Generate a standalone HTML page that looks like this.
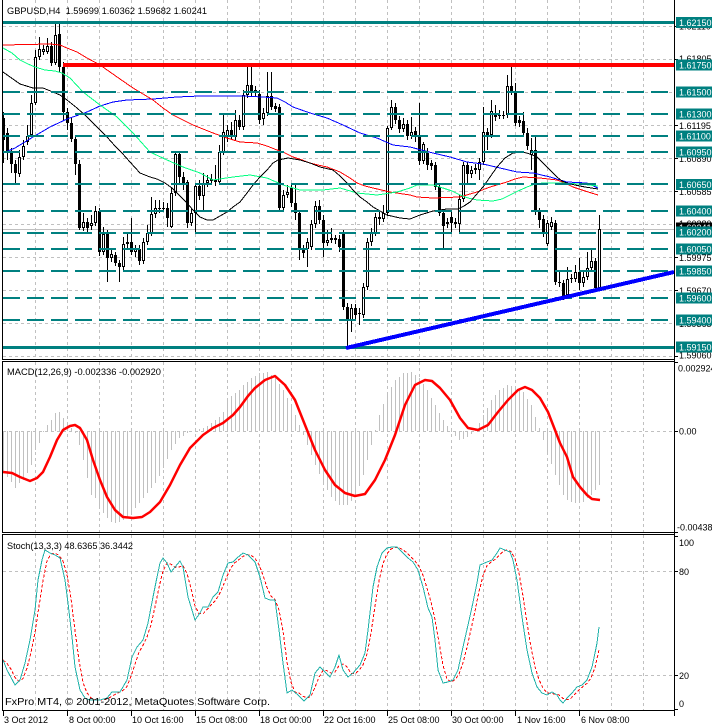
<!DOCTYPE html>
<html><head><meta charset="utf-8"><title>GBPUSD H4</title>
<style>
html,body{margin:0;padding:0;background:#fff;overflow:hidden}
svg{display:block}
text{font-family:"Liberation Sans",Arial,sans-serif;white-space:pre}
</style></head><body>
<svg width="712" height="727" viewBox="0 0 712 727" xmlns="http://www.w3.org/2000/svg" shape-rendering="crispEdges">
<rect x="0" y="0" width="712" height="727" fill="#fff"/>
<g id="g"></g>
<!-- panel borders -->
<path d="M2.5 0V359.5H674.5" fill="none" stroke="#000"/>
<line x1="674.5" y1="0" x2="674.5" y2="716" stroke="#000"/>
<rect x="2.5" y="361.5" width="672" height="171" fill="none" stroke="#000"/>
<rect x="2.5" y="534.5" width="672" height="176" fill="none" stroke="#000"/>
<g stroke="#000">
<line x1="3.5" y1="711" x2="3.5" y2="716"/><line x1="67.5" y1="711" x2="67.5" y2="716"/><line x1="131.5" y1="711" x2="131.5" y2="716"/><line x1="195.5" y1="711" x2="195.5" y2="716"/><line x1="259.5" y1="711" x2="259.5" y2="716"/><line x1="323.5" y1="711" x2="323.5" y2="716"/><line x1="387.5" y1="711" x2="387.5" y2="716"/><line x1="451.5" y1="711" x2="451.5" y2="716"/><line x1="515.5" y1="711" x2="515.5" y2="716"/><line x1="579.5" y1="711" x2="579.5" y2="716"/>
<line x1="675" y1="26.5" x2="678" y2="26.5"/><line x1="675" y1="59.5" x2="678" y2="59.5"/><line x1="675" y1="125.5" x2="678" y2="125.5"/><line x1="675" y1="158.5" x2="678" y2="158.5"/><line x1="675" y1="191.5" x2="678" y2="191.5"/><line x1="675" y1="257.5" x2="678" y2="257.5"/><line x1="675" y1="290.5" x2="678" y2="290.5"/><line x1="675" y1="356.5" x2="678" y2="356.5"/>
<line x1="675" y1="362.5" x2="678" y2="362.5"/><line x1="675" y1="431.5" x2="678" y2="431.5"/><line x1="675" y1="532.5" x2="678" y2="532.5"/>
<line x1="675" y1="536.5" x2="678" y2="536.5"/><line x1="675" y1="571.5" x2="678" y2="571.5"/><line x1="675" y1="675.5" x2="678" y2="675.5"/><line x1="675" y1="709.5" x2="678" y2="709.5"/>
</g>
<!-- black grid price labels -->
<g font-size="9" fill="#000">
<text x="679" y="29.5">1.62110</text>
<text x="679" y="62">1.61805</text>
<text x="679" y="129">1.61195</text>
<text x="679" y="162">1.60890</text>
<text x="679" y="195">1.60585</text>
<text x="679" y="227">1.60280</text>
<text x="679" y="261">1.59975</text>
<text x="679" y="294">1.59670</text>
<text x="679" y="327">1.59365</text>
<text x="679" y="358.5">1.59060</text>
</g>
<rect x="676" y="222.5" width="36" height="11" fill="#000"/>
<text x="679" y="231" font-size="9" fill="#fff">1.60241</text>
<!-- teal level labels -->
<g fill="#008080">
<rect x="676" y="17" width="36" height="11"/>
<rect x="676" y="59.5" width="36" height="11"/>
<rect x="676" y="86.5" width="36" height="11"/>
<rect x="676" y="108.5" width="36" height="11"/>
<rect x="676" y="130.5" width="36" height="11"/>
<rect x="676" y="146.5" width="36" height="11"/>
<rect x="676" y="179" width="36" height="11"/>
<rect x="676" y="205.5" width="36" height="11"/>
<rect x="676" y="226.5" width="36" height="11"/>
<rect x="676" y="243.5" width="36" height="11"/>
<rect x="676" y="265.5" width="36" height="11"/>
<rect x="676" y="292.5" width="36" height="11"/>
<rect x="676" y="314.5" width="36" height="11"/>
<rect x="676" y="341.5" width="36" height="11"/>
</g>
<g font-size="9" fill="#fff">
<text x="679" y="26">1.62150</text>
<text x="679" y="68.5">1.61750</text>
<text x="679" y="95.5">1.61500</text>
<text x="679" y="117.5">1.61300</text>
<text x="679" y="139.5">1.61100</text>
<text x="679" y="155.5">1.60950</text>
<text x="679" y="188">1.60650</text>
<text x="679" y="214.5">1.60400</text>
<text x="679" y="235.5">1.60200</text>
<text x="679" y="252.5">1.60050</text>
<text x="679" y="274.5">1.59850</text>
<text x="679" y="301.5">1.59600</text>
<text x="679" y="323.5">1.59400</text>
<text x="679" y="350.5">1.59150</text>
</g>
<!-- indicator scale labels -->
<g font-size="9" fill="#000">
<text x="678" y="371.5">0.002924</text>
<text x="679" y="434.5">0.00</text>
<text x="677" y="530.5">-0.004380</text>
<text x="679" y="546">100</text>
<text x="679" y="575">80</text>
<text x="679" y="679">20</text>
<text x="679" y="707">0</text>
</g>
<!-- titles -->
<text x="7" y="14" font-size="9.5" textLength="200" lengthAdjust="spacingAndGlyphs">GBPUSD,H4  1.59699 1.60362 1.59682 1.60241</text>
<text x="7" y="375" font-size="9.5" textLength="154" lengthAdjust="spacingAndGlyphs">MACD(12,26,9) -0.002336 -0.002920</text>
<text x="7" y="549" font-size="9.5" textLength="126" lengthAdjust="spacingAndGlyphs">Stoch(13,3,3) 48.6365 36.3442</text>
<text x="5" y="705" font-size="10.5" textLength="265" lengthAdjust="spacingAndGlyphs">FxPro MT4, © 2001-2012, MetaQuotes Software Corp.</text>
<!-- x axis labels -->
<g font-size="9" fill="#000">
<text x="4" y="723">3 Oct 2012</text>
<text x="69" y="723">8 Oct 00:00</text>
<text x="132" y="723">10 Oct 16:00</text>
<text x="196" y="723">15 Oct 08:00</text>
<text x="260" y="723">18 Oct 00:00</text>
<text x="324" y="723">22 Oct 16:00</text>
<text x="388" y="723">25 Oct 08:00</text>
<text x="452" y="723">30 Oct 00:00</text>
<text x="517" y="723">1 Nov 16:00</text>
<text x="581" y="723">6 Nov 08:00</text>
</g>
</svg>
<script>
(function(){
var o='';
function R(x,y,w,h,f){o+='<rect x="'+x+'" y="'+y+'" width="'+w+'" height="'+h+'" fill="'+f+'"/>';}
function L(x1,y1,x2,y2,c,w,d,aa){o+='<line x1="'+x1+'" y1="'+y1+'" x2="'+x2+'" y2="'+y2+'" stroke="'+c+'" stroke-width="'+w+'"'+(d?' stroke-dasharray="'+d+'"':'')+(aa?' shape-rendering="auto"':'')+'/>';}
function P(p,c,w,d,aa){o+='<polyline fill="none" stroke="'+c+'" stroke-width="'+w+'"'+(d?' stroke-dasharray="'+d+'"':'')+(aa?' shape-rendering="auto"':'')+' stroke-linejoin="round" points="'+p.map(function(q){return q[0]+','+q[1];}).join(' ')+'"/>';}
function I(k,x){if(x<=k[0][0])return k[0][1];for(var i=1;i<k.length;i++){if(x<=k[i][0]){var a=k[i-1],b=k[i];return a[1]+(b[1]-a[1])*(x-a[0])/(b[0]-a[0]);}}return k[k.length-1][1];}
var G='#c0c0c0',T='#008080';
// grid
for(var x=35;x<674;x+=32){L(x+.5,0,x+.5,359,G,1,'3,3');L(x+.5,362,x+.5,532,G,1,'3,3');L(x+.5,535,x+.5,710,G,1,'3,3');}
[26,59,92,125,158,191,224,257,290,323,356].forEach(function(y){L(3,y+.5,674,y+.5,G,1,'3,3');});
L(3,431.5,674,431.5,G,1,'3,3');L(3,571.5,674,571.5,G,1,'3,3');L(3,675.5,674,675.5,G,1,'3,3');
L(3,229.5,674,229.5,G,1);
// candles [open,close,high,low] in pixel y
var C=[[118,140,112,163],[133,152,128,160],[152,164,148,173],[164,173,160,183],[174,157,150,177],[157,146,140,160],[142,136,125,145],[135,103,95,137],[103,57,50,105],[57,49,37,60],
[52,49,45,55],[52,46,38,54],[46,63,42,66],[63,35,22,65],[34,67,21,72],[67,112,62,120],[112,123,108,130],[123,139,118,142],[139,164,135,175],[164,228,160,230],
[228,222,213,231],[222,228,218,232],[226,223,215,230],[223,211,206,226],[211,252,208,256],[252,234,227,255],[234,258,230,282],[258,254,250,262],[255,263,252,266],[263,267,260,282],
[267,244,237,270],[244,242,232,248],[242,252,218,255],[252,249,245,257],[249,261,245,265],[261,242,238,264],[242,233,225,245],[233,214,197,236],[214,208,200,218],[208,208,200,213],
[208,208,202,212],[208,218,203,227],[227,193,188,228],[193,154,151,196],[154,177,151,185],[177,185,172,190],[182,223,180,228],[223,213,208,226],[213,186,183,233],[186,196,180,200],
[196,183,173,210],[183,180,175,187],[181,179,174,184],[180,182,165,186],[182,152,145,185],[152,132,113,155],[137,130,125,142],[130,137,122,140],[137,120,110,140],[120,127,115,130],
[127,95,90,130],[95,85,63,98],[85,92,67,96],[90,93,86,96],[94,120,90,124],[119,113,108,125],[113,96,72,116],[96,107,72,110],[106,109,103,112],[107,208,104,212],
[208,195,190,212],[195,192,185,198],[188,203,185,207],[203,213,185,220],[213,249,210,260],[249,253,245,258],[249,242,238,267],[247,224,220,250],[224,206,201,228],[206,220,200,224],
[220,243,215,257],[243,240,230,246],[240,238,228,243],[238,240,235,244],[239,247,235,252],[232,307,230,310],[307,320,303,348],[320,308,304,332],[308,315,304,320],[313,313,308,325],
[315,287,283,318],[287,242,238,290],[242,233,228,246],[233,217,213,236],[217,219,212,225],[219,213,205,222],[213,128,126,216],[128,107,100,130],[107,120,103,124],[120,129,116,133],
[129,124,118,132],[124,136,120,140],[136,132,117,139],[131,137,127,142],[137,161,103,165],[161,144,142,164],[153,165,148,170],[163,166,160,170],[165,187,162,190],[187,213,183,216],
[213,226,210,249],[222,224,218,228],[217,223,212,232],[224,222,218,228],[224,199,195,232],[199,165,162,202],[165,174,162,184],[174,170,166,178],[170,168,164,174],[170,162,158,180],
[162,132,107,165],[132,135,128,150],[135,111,100,138],[113,117,105,121],[115,115,110,119],[115,115,111,119],[115,86,75,118],[86,92,67,95],[92,123,83,126],[120,123,116,127],
[121,133,112,137],[133,146,128,150],[155,150,138,170],[150,212,137,215],[212,220,208,228],[219,233,215,237],[244,223,220,246],[227,222,217,230],[223,282,220,285],[282,283,270,287],
[283,297,280,300],[295,279,267,298],[279,278,274,283],[279,272,265,282],[272,283,258,290],[283,277,270,287],[277,268,252,280],[268,261,248,271],[261,288,258,291],[288,229,215,291]];
for(var i=0;i<C.length;i++){var c=C[i],cx=3+4*i,op=c[0],cl=c[1],hi=c[2],lo=c[3];var t=Math.min(op,cl),b=Math.max(op,cl);
R(cx,hi,1,lo-hi,'#000');var hh=Math.max(b-t,1);R(cx-1,t,3,hh,'#000');if(cl<op&&hh>2)R(cx,t+1,1,hh-2,'#fff');}
// moving averages
var K=[[3,72],[20,84],[33,88],[43,88],[53,92],[60,95],[67,100],[77,108],[87,117],[97,127],[107,137],[115,146],[122,153],[130,162],[140,173],[150,177],[157,179],[165,183],[172,188],[177,193],[187,203],[193,210],[200,217],[207,220],[213,220],[220,216],[227,212],[233,207],[240,202],[247,193],[253,185],[260,177],[267,170],[273,163],[278,160],[288,158],[300,160],[310,163],[320,167],[333,170],[340,176],[347,183],[353,190],[360,197],[367,202],[373,207],[380,211],[387,215],[400,218],[410,219],[420,215],[433,211],[447,209],[458,209],[464,206],[470,202],[476,195],[483,187],[490,177],[497,167],[505,158],[513,153],[523,152],[530,154],[537,157],[542,162],[547,167],[552,172],[557,177],[562,181],[567,183],[575,185],[585,187],[598,189]];
var Gr=[[3,48],[12,53],[20,60],[28,64],[35,67],[45,70],[55,71],[62,73],[70,78],[83,92],[100,105],[117,117],[133,133],[150,152],[167,160],[183,167],[200,173],[213,180],[233,177],[250,175],[267,178],[283,185],[300,190],[323,190],[340,188],[357,193],[377,195],[397,192],[410,188],[417,185],[433,185],[443,188],[452,191],[460,195],[468,198],[477,200],[493,201],[502,199],[510,195],[518,191],[527,187],[535,184],[543,183],[560,183],[580,184],[598,186]];
var Rd=[[3,45],[50,44],[60,45],[67,48],[77,52],[87,58],[100,65],[110,72],[120,79],[133,88],[143,94],[153,100],[163,108],[173,115],[183,120],[193,125],[203,129],[213,133],[227,138],[240,142],[257,143],[267,146],[277,150],[285,153],[293,157],[302,160],[310,163],[318,165],[327,167],[335,170],[340,172],[350,178],[357,183],[365,186],[373,188],[390,192],[410,195],[417,197],[433,198],[460,197],[470,194],[477,192],[490,187],[507,182],[515,179],[523,177],[540,178],[557,180],[565,183],[573,187],[585,191],[598,195]];
var Bl=[[3,153],[15,148],[33,137],[50,127],[67,119],[87,112],[100,106],[113,102],[127,100],[153,99],[177,97],[200,96],[243,96],[262,97],[277,98],[285,102],[293,107],[310,113],[327,118],[343,125],[360,133],[377,138],[393,145],[410,147],[433,153],[450,157],[467,162],[483,164],[500,168],[517,172],[533,173],[550,177],[567,182],[587,183],[598,188]];
P(Bl,'#0000ff',1);P(Rd,'#ff0000',1);P(Gr,'#00ff80',1);P(K,'#000000',1);
// levels
[92,114,136,152,184,211,233,249,271,298,320].forEach(function(y){L(3,y,674,y,T,2,'17,7');});
R(3,21,671,3,T);R(3,346,671,3,T);R(63,63,611,4,'#ff0000');
// trendline
L(346,348,674,272,'#0000ff',4);
// MACD histogram
var H=[[3,472],[7,477],[11,482],[15,488],[19,483],[23,480],[27,473],[31,465],[35,450],[39,443],[43,432],[47,425],[51,420],[55,413],[59,412],[63,418],[67,424],[71,428],[75,433],[79,445],[83,460],[87,478],[91,495],[95,498],[99,507],[103,513],[107,518],[111,522],[115,523],[119,522],[123,520],[131,513],[139,503],[147,493],[155,483],[163,468],[171,450],[179,438],[187,433],[195,430],[203,428],[211,423],[219,417],[223,412],[227,398],[235,393],[239,390],[243,385],[251,378],[259,373],[267,372],[275,378],[283,390],[291,405],[299,425],[307,445],[315,465],[323,483],[331,497],[339,505],[347,505],[355,497],[363,475],[371,445],[379,415],[387,393],[395,380],[403,373],[411,372],[419,378],[427,390],[435,405],[443,420],[451,432],[459,440],[467,437],[475,430],[483,415],[491,400],[499,390],[507,385],[515,386],[523,392],[531,405],[539,428],[547,452],[555,475],[563,495],[567,500],[571,502],[579,503],[583,502],[587,498],[591,495],[595,490],[599,485]];
for(var i=0;i<150;i++){var cx=3+4*i,v=Math.round(I(H,cx));if(v<431)R(cx,v,1,431-v,G);else R(cx,431,1,Math.max(v-431,1),G);}
var MS=[[3,472],[12,473],[20,477],[30,481],[37,478],[43,472],[50,457],[57,440],[63,430],[70,426],[75,425],[80,428],[87,440],[93,460],[100,480],[107,497],[115,510],[123,517],[133,518],[142,517],[150,512],[160,502],[170,485],[180,465],[190,448],[203,435],[213,428],[223,423],[233,415],[240,407],[248,396],[255,388],[265,380],[275,376],[285,385],[295,400],[305,425],[315,450],[325,470],[335,485],[345,493],[355,496],[365,494],[375,480],[385,460],[395,435],[405,405],[415,385],[425,380],[432,381],[440,388],[450,400],[460,418],[468,428],[478,430],[488,425],[498,412],[508,400],[518,390],[525,387],[532,390],[540,398],[548,412],[555,430],[560,443],[567,457],[573,477],[580,487],[587,495],[592,499],[600,500]];
P(MS,'#ff0000',2.5,null,true);
// Stochastic
var S=[[3,660],[7,670],[15,685],[20,680],[25,663],[30,640],[35,610],[38,580],[42,560],[45,550],[50,553],[55,555],[60,558],[65,580],[68,603],[72,637],[75,667],[80,690],[85,698],[90,700],[100,700],[107,698],[112,692],[120,692],[127,680],[132,657],[137,647],[143,640],[148,623],[153,597],[157,577],[160,563],[163,558],[167,563],[171,572],[175,567],[180,561],[183,567],[188,597],[192,610],[195,620],[200,613],[203,607],[208,607],[213,597],[218,592],[223,575],[228,563],[233,562],[237,558],[243,553],[248,555],[255,562],[260,577],[265,598],[270,600],[275,600],[279,630],[283,663],[287,693],[292,690],[298,695],[304,701],[310,695],[315,673],[320,667],[325,672],[330,677],[335,667],[339,655],[343,670],[348,677],[353,673],[360,665],[365,653],[368,630],[373,587],[377,567],[382,553],[387,548],[392,547],[397,547],[402,552],[408,558],[413,562],[418,570],[423,587],[428,608],[432,617],[435,640],[438,670],[443,683],[448,682],[453,680],[458,670],[463,647],[468,625],[472,607],[477,583],[480,565],[487,562],[492,560],[497,553],[500,548],[505,550],[510,552],[513,560],[517,580],[522,617],[527,650],[532,673],[537,687],[542,693],[547,695],[552,692],[557,695],[560,700],[563,703],[567,698],[572,693],[577,687],[582,685],[587,680],[592,667],[595,653],[597,643],[599,627]];
var m=[],sg=[];for(var i=0;i<150;i++){m.push(I(S,3+4*i));}
for(var i=0;i<150;i++){var a=m[Math.max(i-2,0)],b=m[Math.max(i-1,0)];sg.push([3+4*i,((a+b+m[i])/3).toFixed(1)]);}
P(sg,'#ff0000',1,'3,2');
P(S,'#20b2aa',1);
document.getElementById('g').innerHTML=o;
})();
</script>
</body></html>
